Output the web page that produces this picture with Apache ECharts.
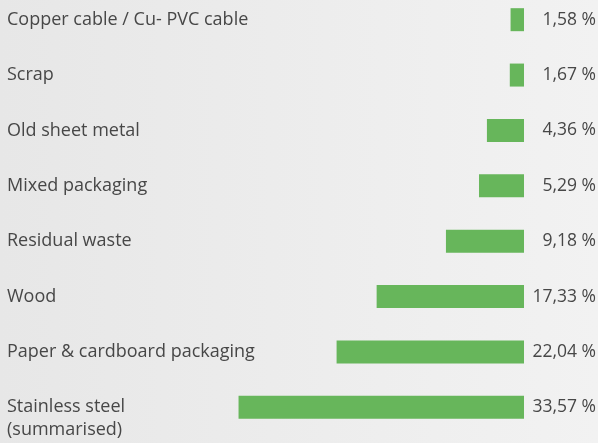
<!DOCTYPE html>
<html>
<head>
<meta charset="utf-8">
<script src="https://cdn.jsdelivr.net/npm/echarts@6/dist/echarts.min.js"></script>
<style>
html,body{margin:0;padding:0;overflow:hidden;}
body{width:598px;height:443px;background:linear-gradient(to right,#e7e7e7,#f2f2f2);position:relative;}
#c{position:absolute;left:0;top:-8px;width:598px;height:459px;}
</style>
</head>
<body>
<div id="c"></div>
<script>
const categories = [
  "Copper cable / Cu- PVC cable",
  "Scrap",
  "Old sheet metal",
  "Mixed packaging",
  "Residual waste",
  "Wood",
  "Paper & cardboard packaging",
  "Stainless steel\n(summarised)"
];
const values = [1.58, 1.67, 4.36, 5.29, 9.18, 17.33, 22.04, 33.57];
const valueLabels = values.map(v => v.toFixed(2).replace('.', ',') + ' %');

const chart = echarts.init(document.getElementById('c'), null, {renderer: 'canvas'});
const font = '"Open Sans", sans-serif';
chart.setOption({
  backgroundColor: 'transparent',
  animation: false,
  grid: {left: 7, right: 74, top: 0, height: 443, containLabel: false, outerBoundsMode: 'none'},
  xAxis: {type: 'value', min: 0, max: 60.8, inverse: true, show: false},
  yAxis: [{
    type: 'category', data: categories, inverse: true, position: 'left',
    axisLine: {show: false, onZero: false}, axisTick: {show: false}, splitLine: {show: false},
    axisLabel: {
      inside: true, margin: 0, align: 'left', verticalAlign: 'middle', interval: 0,
      color: '#474747', fontSize: 18, fontFamily: font, lineHeight: 23,
      formatter: n => ' \n' + (n.indexOf('\n') >= 0 ? n : n + '\n ')
    }
  }, {
    type: 'category', data: valueLabels, inverse: true, position: 'right',
    axisLine: {show: false, onZero: false}, axisTick: {show: false}, splitLine: {show: false},
    axisLabel: {
      margin: 72, align: 'right', interval: 0, color: '#474747', fontSize: 17.5, fontFamily: font
    }
  }],
  series: [{
    type: 'bar', data: values, barWidth: 23, yAxisIndex: 0,
    itemStyle: {color: '#67b65b'}
  }]
});
</script>
</body>
</html>
